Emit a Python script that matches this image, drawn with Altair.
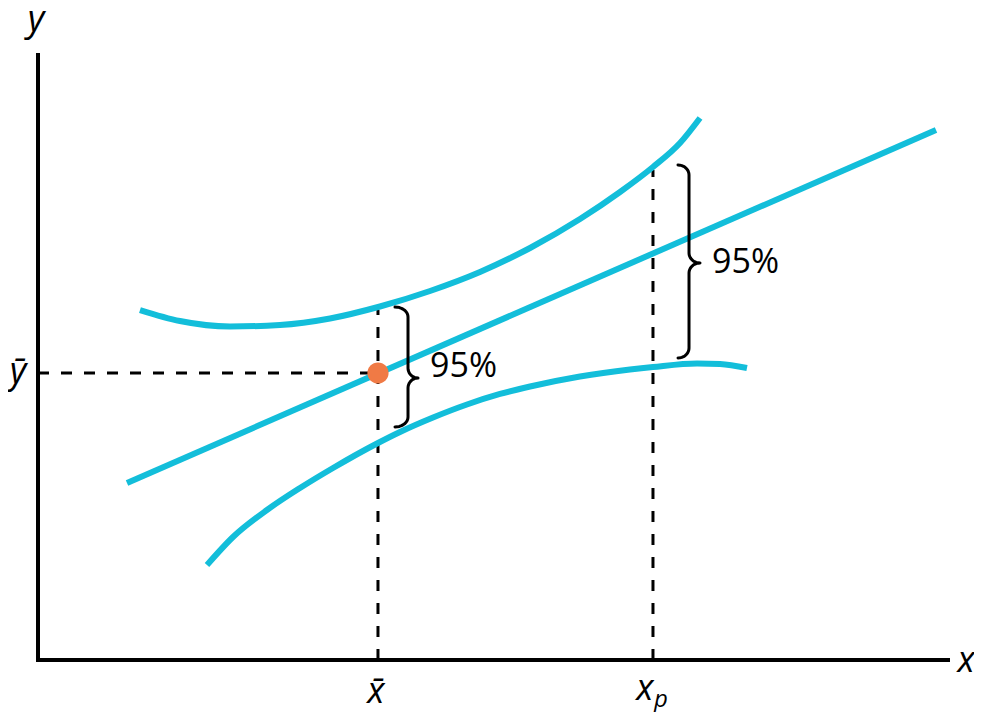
import altair as alt
import pandas as pd
import numpy as np

# ---- data (data units: x 0..10, y 0..10) ----
x_bar = 3.736
y_bar = 4.744
x_p = 6.758

reg_x = [0.978, 9.868]
reg_y = [2.926, 8.760]

upper_x = [1.121, 1.560, 2.110, 2.659, 3.209, 3.758, 4.308, 4.857, 5.407, 5.956, 6.396, 6.758, 7.055, 7.275]
upper_y = [5.785, 5.603, 5.512, 5.537, 5.645, 5.843, 6.099, 6.413, 6.810, 7.289, 7.736, 8.149, 8.545, 8.959]

lower_x = [1.857, 2.143, 2.516, 2.879, 3.242, 3.736, 3.978, 4.341, 4.714, 5.077, 5.407,
           5.956, 6.505, 6.758, 7.242, 7.495, 7.791]
lower_y = [1.570, 2.033, 2.479, 2.843, 3.174, 3.587, 3.769, 4.008, 4.223, 4.397, 4.521,
           4.686, 4.802, 4.843, 4.901, 4.893, 4.826]

upper_at_xbar = 5.785
upper_at_xp = 8.099

# braces: vertical x, tip x, hook x, top, bottom, middle
brace_v = [4.066, 7.154]
brace_tip = [4.176, 7.275]
brace_hook = [3.923, 7.033]
brace_top = [5.835, 8.182]
brace_bottom = [3.851, 4.992]
brace_mid = [4.661, 6.562]
brace_r = 0.165

pct_labels = ["95%", "95%"]
pct_x = [4.308, 7.407]
pct_y = [4.678, 6.397]

ital_text = ["y", "x", "x\u0304", "x", "p", "y\u0304"]
ital_x = [-0.022, 10.198, 3.714, 6.670, 6.846, -0.220]
ital_y = [10.397, -0.198, -0.711, -0.661, -0.777, 4.579]
ital_size = [36, 36, 36, 36, 24, 36]

CYAN = "#13BEDA"
ORANGE = "#F07A45"
FONT = "Open Sans"

# ---- tables ----
axes_df = pd.DataFrame({"x": [0, 0], "y": [0, 0], "x2": [10, 0], "y2": [0, 10]})
dash_df = pd.DataFrame({
    "x": [0, x_bar, x_p],
    "y": [y_bar, 0, 0],
    "x2": [x_bar, x_bar, x_p],
    "y2": [y_bar, upper_at_xbar, upper_at_xp],
})

curves = pd.concat([
    pd.DataFrame({"x": reg_x, "y": reg_y, "s": "reg"}),
    pd.DataFrame({"x": upper_x, "y": upper_y, "s": "upper"}),
    pd.DataFrame({"x": lower_x, "y": lower_y, "s": "lower"}),
])

def brace_path(xv, xt, xh, top, bottom, mid, r, n=10):
    pts = []
    t = np.linspace(0, np.pi / 2, n)
    pts += list(zip(xh + (xv - xh) * np.sin(t), top - r + r * np.cos(t)))
    a = np.linspace(np.pi, 1.5 * np.pi, n)
    pts += list(zip(xt + (xt - xv) * np.cos(a), mid + r + r * np.sin(a)))
    a = np.linspace(0.5 * np.pi, np.pi, n)
    pts += list(zip(xt + (xt - xv) * np.cos(a), mid - r + r * np.sin(a)))
    a = np.linspace(0, -0.5 * np.pi, n)
    pts += list(zip(xh + (xv - xh) * np.cos(a), bottom + r + r * np.sin(a)))
    return pts

rows = []
for i in range(len(brace_v)):
    for k, (px, py) in enumerate(brace_path(brace_v[i], brace_tip[i], brace_hook[i],
                                            brace_top[i], brace_bottom[i], brace_mid[i], brace_r)):
        rows.append({"x": px, "y": py, "b": i, "o": k})
brace_df = pd.DataFrame(rows)

pt_df = pd.DataFrame({"x": [x_bar], "y": [y_bar]})
pct_df = pd.DataFrame({"x": pct_x, "y": pct_y, "t": pct_labels})
ital_df = pd.DataFrame({"x": ital_x, "y": ital_y, "t": ital_text, "size": ital_size})

xs = alt.Scale(domain=[0, 10], nice=False, zero=False)
ys = alt.Scale(domain=[0, 10], nice=False, zero=False)

def X(f="x"):
    return alt.X(f, type="quantitative", scale=xs, axis=None)

def Y(f="y"):
    return alt.Y(f, type="quantitative", scale=ys, axis=None)

axes = alt.Chart(axes_df).mark_rule(color="black", strokeWidth=4, strokeCap="square").encode(
    x=X(), y=Y(), x2="x2", y2="y2")

dashes = alt.Chart(dash_df).mark_rule(color="black", strokeWidth=3, strokeDash=[11, 12]).encode(
    x=X(), y=Y(), x2="x2", y2="y2")

lines = alt.Chart(curves).mark_line(color=CYAN, strokeWidth=6, interpolate="monotone",
                                    strokeCap="butt").encode(
    x=X(), y=Y(), detail="s:N")

braces = alt.Chart(brace_df).mark_line(color="black", strokeWidth=3, strokeJoin="round",
                                       strokeCap="round").encode(
    x=X(), y=Y(), detail="b:N", order="o:Q")

point = alt.Chart(pt_df).mark_circle(color=ORANGE, size=450, opacity=1).encode(x=X(), y=Y())

pct = alt.Chart(pct_df).mark_text(font=FONT, fontSize=34, align="left", baseline="alphabetic",
                                  color="black").encode(x=X(), y=Y(), text="t:N")

ital = alt.Chart(ital_df).mark_text(font=FONT, fontStyle="italic", align="center",
                                    baseline="alphabetic", color="black").encode(
    x=X(), y=Y(), text="t:N", size=alt.Size("size:Q", scale=None))

chart = alt.layer(axes, dashes, lines, braces, point, pct, ital).properties(
    width=910, height=605,
    padding={"left": 30, "top": 47, "right": 26, "bottom": 52},
    autosize=alt.AutoSizeParams(type="none"),
    background="white",
).configure_view(stroke="transparent")

chart.save("out.html", embed_options={"renderer": "svg", "actions": False})
